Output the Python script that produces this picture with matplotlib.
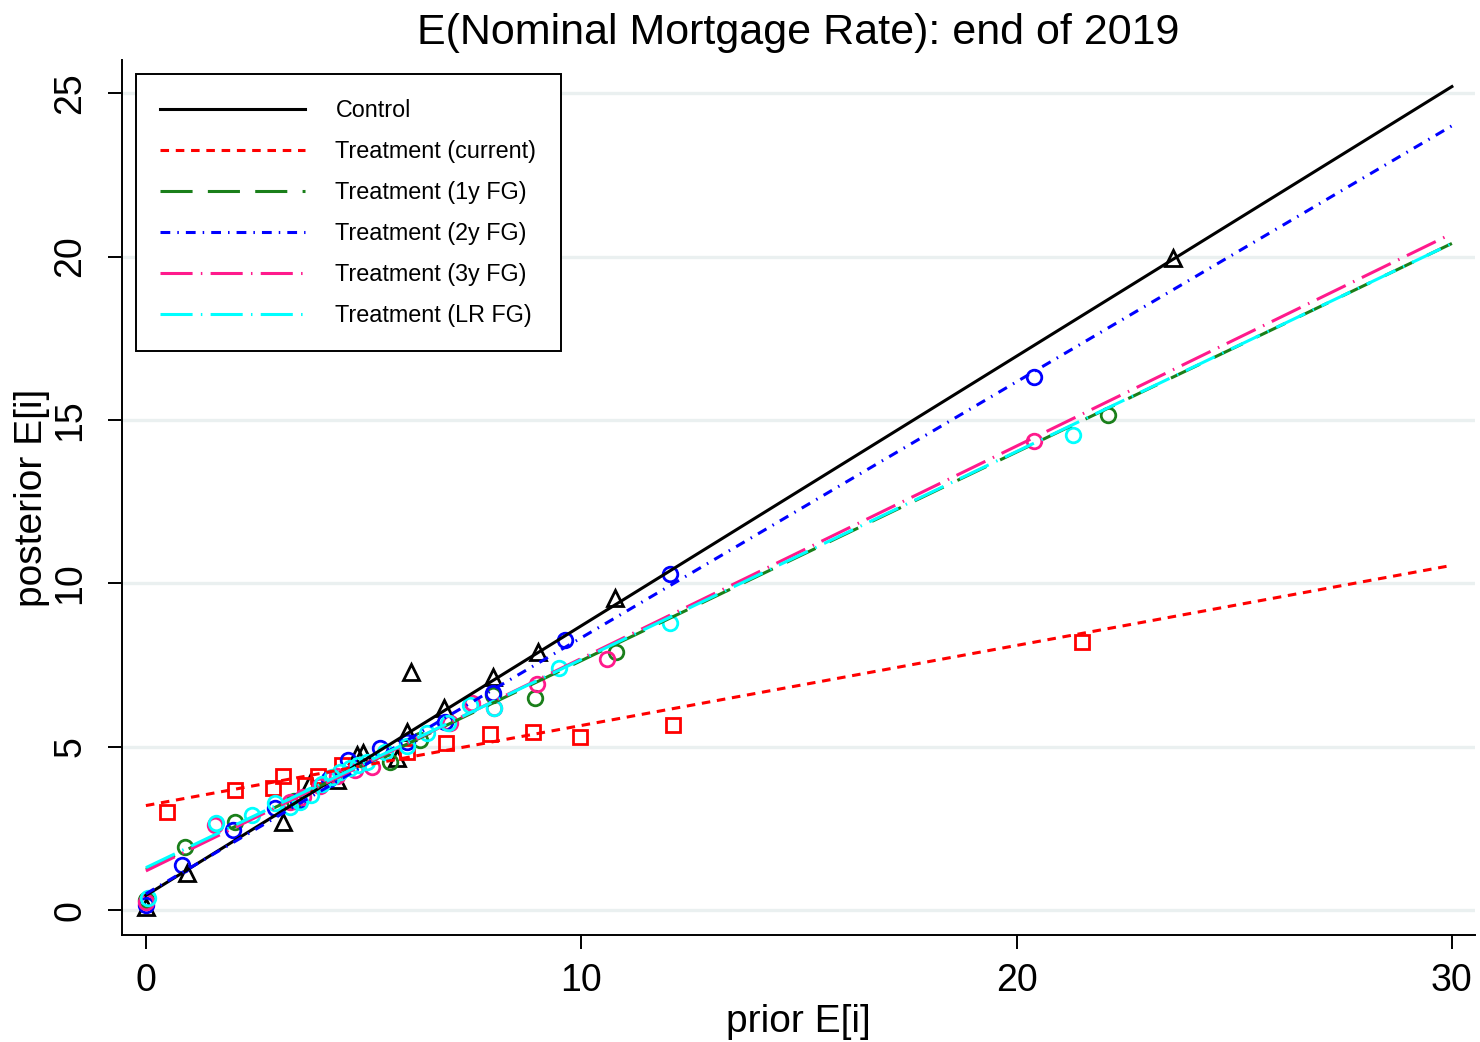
import matplotlib
matplotlib.use('Agg')
import matplotlib.pyplot as plt

plt.rcParams['font.family'] = ['Liberation Sans', 'DejaVu Sans']

# scatter points
ctrl_x = [0, 0.94, 3.15, 3.77, 4.38, 4.85, 4.98, 5.77, 6.0, 6.1, 6.85, 7.97, 9.0, 10.77, 23.6]
ctrl_y = [0.1, 1.13, 2.7, 3.9, 3.97, 4.74, 4.8, 4.65, 5.45, 7.28, 6.18, 7.13, 7.9, 9.54, 19.95]

cur_x = [0.48, 2.04, 2.92, 3.15, 3.65, 3.95, 4.5, 6.0, 6.9, 7.9, 8.9, 9.97, 12.1, 21.5]
cur_y = [3.0, 3.67, 3.73, 4.1, 3.82, 4.1, 4.43, 4.85, 5.1, 5.4, 5.45, 5.3, 5.66, 8.2]

fg1_x = [0, 0.9, 2.04, 3.4, 5.6, 6.3, 7.97, 8.93, 10.8, 22.1]
fg1_y = [0.3, 1.93, 2.7, 3.35, 4.53, 5.2, 6.57, 6.48, 7.9, 15.15]

fg2_x = [0, 0.83, 2.0, 2.96, 3.5, 4.2, 4.64, 5.37, 6.0, 6.87, 7.97, 9.62, 12.05, 20.4]
fg2_y = [0.15, 1.38, 2.45, 3.12, 3.35, 4.0, 4.6, 4.95, 5.13, 5.75, 6.63, 8.26, 10.3, 16.3]

fg3_x = [0, 1.58, 3.3, 3.6, 4.0, 4.4, 4.8, 5.2, 6.98, 7.49, 8.0, 8.98, 10.6, 20.4]
fg3_y = [0.25, 2.6, 3.3, 3.45, 3.8, 4.1, 4.3, 4.37, 5.72, 6.33, 6.18, 6.93, 7.7, 14.35]

lr_x = [0.05, 1.62, 2.43, 2.96, 3.3, 3.54, 3.8, 4.05, 4.27, 4.45, 4.68, 4.87, 5.07, 5.49,
        6.0, 6.45, 6.93, 7.44, 8.0, 9.5, 12.03, 21.3]
lr_y = [0.37, 2.66, 2.9, 3.27, 3.15, 3.3, 3.52, 3.87, 4.07, 4.22, 4.34, 4.43, 4.53, 4.83,
        5.03, 5.43, 5.72, 6.27, 6.2, 7.42, 8.78, 14.55]

# fitted lines: value at x=0 and x=30
fit_x = [0, 30]
fit_ctrl = [0.45, 25.2]
fit_cur = [3.2, 10.55]
fit_fg1 = [1.25, 20.4]
fit_fg2 = [0.5, 24.0]
fit_fg3 = [1.2, 20.7]
fit_lr = [1.3, 20.4]

labels = ['Control', 'Treatment (current)', 'Treatment (1y FG)', 'Treatment (2y FG)',
          'Treatment (3y FG)', 'Treatment (LR FG)']

fig = plt.figure(figsize=(14.8, 10.42), dpi=100)
ax = fig.add_axes([0.0824, 0.1027, 0.9142, 0.8393])

lw = 2.2
ms = 10.5
mew = 2.0

ax.plot(ctrl_x, ctrl_y, '^', ms=ms + 1, mfc='none', mec='black', mew=mew)
ax.plot(cur_x, cur_y, 's', ms=ms - 0.5, mfc='none', mec='#ff0000', mew=mew)
ax.plot(fg1_x, fg1_y, 'o', ms=ms, mfc='none', mec='#1a7f1a', mew=mew)
ax.plot(fg2_x, fg2_y, 'o', ms=ms, mfc='none', mec='#0000ff', mew=mew)
ax.plot(fg3_x, fg3_y, 'o', ms=ms, mfc='none', mec='#ff1a8c', mew=mew)
ax.plot(lr_x, lr_y, 'o', ms=ms, mfc='none', mec='#00ffff', mew=mew)

ax.plot(fit_x, fit_ctrl, color='black', lw=lw, label=labels[0])
ax.plot(fit_x, fit_cur, color='#ff0000', lw=lw, ls=(0, (2.8, 2.2)), label=labels[1])
ax.plot(fit_x, fit_fg1, color='#1a7f1a', lw=lw, ls=(0, (10.5, 5)), label=labels[2])
ax.plot(fit_x, fit_fg2, color='#0000ff', lw=lw, ls=(0, (3.2, 2.3, 0.5, 2.3)), label=labels[3])
ax.plot(fit_x, fit_fg3, color='#ff1a8c', lw=lw, ls=(0, (10.5, 2.7, 0.5, 2.7)), label=labels[4])
ax.plot(fit_x, fit_lr, color='#00ffff', lw=lw, ls=(0, (10.5, 2.7, 0.5, 2.7)), label=labels[5])

ax.set_xlim(-0.55, 30.53)
ax.set_ylim(-0.76, 26.0)
ax.set_xticks([0, 10, 20, 30])
ax.set_yticks([0, 5, 10, 15, 20, 25])
ax.yaxis.grid(True, color='#eaf0f0', lw=2.4)
ax.set_axisbelow(True)
ax.tick_params(axis='both', labelsize=27, length=10, width=1.4, direction='out')
ax.tick_params(axis='x', pad=10)
ax.tick_params(axis='y', pad=14)
for t in ax.get_yticklabels():
    t.set_rotation(90)
    t.set_va('center')
ax.spines['top'].set_visible(False)
ax.spines['right'].set_visible(False)
ax.spines['left'].set_linewidth(1.4)
ax.spines['bottom'].set_linewidth(1.4)

ax.set_xlabel('prior E[i]', fontsize=28, labelpad=4)
ax.set_ylabel('posterior E[i]', fontsize=28, labelpad=2)
ax.set_title('E(Nominal Mortgage Rate): end of 2019', fontsize=31, pad=12)

leg = ax.legend(loc='upper left', bbox_to_anchor=(0.0103, 0.984), borderaxespad=0,
                fontsize=16.8, handlelength=6.2, handletextpad=1.3, labelspacing=0.77,
                borderpad=1.05, fancybox=False, framealpha=1, edgecolor='black')
leg.get_frame().set_linewidth(1.4)

fig.savefig('out.png', dpi=100)
